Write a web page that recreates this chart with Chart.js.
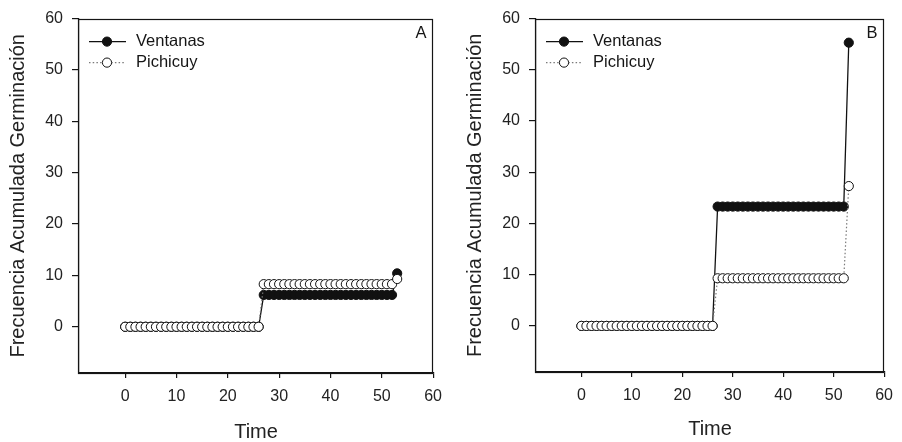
<!DOCTYPE html>
<html><head><meta charset="utf-8">
<script src="https://cdn.jsdelivr.net/npm/chart.js@4.4.1/dist/chart.umd.min.js"></script>
<style>
html,body{margin:0;padding:0;background:#fff;width:902px;height:442px;overflow:hidden}
canvas{position:absolute;top:0}
#cA{left:0}#cB{left:451px}
</style></head>
<body>
<canvas id="cA" width="451" height="442"></canvas>
<canvas id="cB" width="451" height="442"></canvas>
<script>
// ---- data ----
const days = [0,1,2,3,4,5,6,7,8,9,10,11,12,13,14,15,16,17,18,19,20,21,22,23,24,25,26,27,28,29,30,31,32,33,34,35,36,37,38,39,40,41,42,43,44,45,46,47,48,49,50,51,52,53];
const ventanasA = [0,0,0,0,0,0,0,0,0,0,0,0,0,0,0,0,0,0,0,0,0,0,0,0,0,0,0,6.2,6.2,6.2,6.2,6.2,6.2,6.2,6.2,6.2,6.2,6.2,6.2,6.2,6.2,6.2,6.2,6.2,6.2,6.2,6.2,6.2,6.2,6.2,6.2,6.2,6.2,10.4];
const pichicuyA = [0,0,0,0,0,0,0,0,0,0,0,0,0,0,0,0,0,0,0,0,0,0,0,0,0,0,0,8.3,8.3,8.3,8.3,8.3,8.3,8.3,8.3,8.3,8.3,8.3,8.3,8.3,8.3,8.3,8.3,8.3,8.3,8.3,8.3,8.3,8.3,8.3,8.3,8.3,8.3,9.3];
const ventanasB = [0,0,0,0,0,0,0,0,0,0,0,0,0,0,0,0,0,0,0,0,0,0,0,0,0,0,0,23.3,23.3,23.3,23.3,23.3,23.3,23.3,23.3,23.3,23.3,23.3,23.3,23.3,23.3,23.3,23.3,23.3,23.3,23.3,23.3,23.3,23.3,23.3,23.3,23.3,23.3,55.3];
const pichicuyB = [0,0,0,0,0,0,0,0,0,0,0,0,0,0,0,0,0,0,0,0,0,0,0,0,0,0,0,9.3,9.3,9.3,9.3,9.3,9.3,9.3,9.3,9.3,9.3,9.3,9.3,9.3,9.3,9.3,9.3,9.3,9.3,9.3,9.3,9.3,9.3,9.3,9.3,9.3,9.3,27.3];
const xTicks = [0,10,20,30,40,50,60];
const yTicks = [0,10,20,30,40,50,60];
const seriesNames = ['Ventanas','Pichicuy'];
const panelLetters = ['A','B'];
const xTitle = 'Time';
const yTitle = 'Frecuencia Acumulada Germinación';

// ---- drawing ----
const FAM = '"Liberation Sans", Arial, sans-serif';
const INK = '#151515';

const decor = {
  id: 'decor',
  afterDraw(chart, args, o) {
    const {ctx, chartArea: a} = chart;
    ctx.save();
    // frame
    ctx.strokeStyle = INK; ctx.lineWidth = 1.2;
    const L = Math.round(a.left) - 0.5, T = Math.round(a.top) + 0.5;
    const R = Math.round(a.right) - 0.5, B = Math.round(a.bottom) + 0.5;
    ctx.strokeRect(L, T, R - L, B - T);
    // panel letter
    ctx.fillStyle = INK;
    ctx.font = '16.5px ' + FAM;
    ctx.textAlign = 'center'; ctx.textBaseline = 'middle';
    ctx.fillText(o.letter, a.right - 12, a.top + 15);
    // legend (Ventanas first)
    const order = [1, 0];
    order.forEach((di, k) => {
      const ds = chart.data.datasets[di];
      const y = a.top + 23 + k * 21;
      const x0 = a.left + 10, x1 = a.left + 47, xm = a.left + 28;
      ctx.beginPath();
      ctx.strokeStyle = ds.borderColor; ctx.lineWidth = ds.borderWidth;
      ctx.setLineDash(ds.borderDash || []);
      ctx.moveTo(x0, y); ctx.lineTo(x1, y); ctx.stroke();
      ctx.setLineDash([]);
      ctx.beginPath();
      ctx.arc(xm, y, ds.pointRadius, 0, Math.PI * 2);
      ctx.fillStyle = ds.pointBackgroundColor; ctx.fill();
      ctx.strokeStyle = ds.pointBorderColor; ctx.lineWidth = 1; ctx.stroke();
      ctx.fillStyle = INK;
      ctx.font = '16.5px ' + FAM;
      ctx.textAlign = 'left'; ctx.textBaseline = 'middle';
      ctx.fillText(ds.label, a.left + 57, y);
    });
    ctx.restore();
  }
};

function pts(vals) { return days.map((d, i) => ({x: d, y: vals[i]})); }

function makeChart(id, vVals, pVals, letter, g) {
  new Chart(document.getElementById(id), {
    type: 'line',
    data: {
      datasets: [
        { label: seriesNames[1], data: pts(pVals), borderColor: '#7a7a7a', borderWidth: 1.2,
          borderDash: [1.5, 2.2], pointRadius: 4.6, pointBackgroundColor: '#fff',
          pointBorderColor: '#111', pointBorderWidth: 1, tension: 0 },
        { label: seriesNames[0], data: pts(vVals), borderColor: '#111', borderWidth: 1.3,
          pointRadius: 4.6, pointBackgroundColor: '#111', pointBorderColor: '#111',
          pointBorderWidth: 1, tension: 0 }
      ]
    },
    options: {
      responsive: false, animation: false, devicePixelRatio: 1,
      layout: { padding: { top: g.top, right: g.right, left: 0, bottom: 0 } },
      plugins: { legend: { display: false }, tooltip: { enabled: false }, decor: { letter } },
      scales: {
        x: {
          type: 'linear', min: -9, max: 60,
          afterBuildTicks: s => { s.ticks = xTicks.map(v => ({value: v})); },
          afterFit: s => { s.height = g.xh; },
          grid: { drawOnChartArea: false, drawTicks: true, tickLength: 5, color: INK, lineWidth: 1.2 },
          border: { display: true, color: INK, width: 1.2 },
          ticks: { autoSkip: false, maxRotation: 0, padding: 9, color: '#222', font: { size: 16, family: FAM } },
          title: { display: true, text: xTitle, color: '#222', padding: { top: 0, bottom: g.xtp },
                   font: { size: 20, family: FAM, lineHeight: 1 } }
        },
        y: {
          type: 'linear', min: -9, max: 60,
          afterBuildTicks: s => { s.ticks = yTicks.map(v => ({value: v})); },
          afterFit: s => { s.width = g.yw; },
          grid: { drawOnChartArea: false, drawTicks: true, tickLength: 7, color: INK, lineWidth: 1.2 },
          border: { display: true, color: INK, width: 1.2 },
          ticks: { autoSkip: false, padding: 9, color: '#222', font: { size: 16, family: FAM } },
          title: { display: true, text: yTitle, color: '#222', padding: { top: g.ytp, bottom: 0 },
                   font: { size: 20, family: FAM, lineHeight: 1.2 } }
        }
      }
    },
    plugins: [decor]
  });
}

makeChart('cA', ventanasA, pichicuyA, panelLetters[0], { top: 18, right: 16, yw: 79, xh: 69, ytp: 6.5, xtp: 0 });
makeChart('cB', ventanasB, pichicuyB, panelLetters[1], { top: 17, right: 11, yw: 85, xh: 70, ytp: 12.5, xtp: 2.5 });
</script>
</body></html>
